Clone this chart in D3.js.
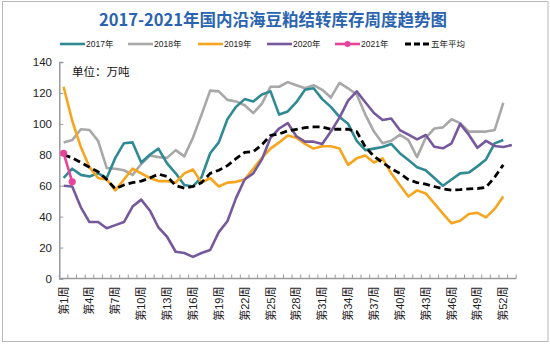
<!DOCTYPE html>
<html>
<head>
<meta charset="utf-8">
<script src="https://cdn.jsdelivr.net/npm/d3@7"></script>
<style>
  html, body { margin: 0; padding: 0; background: #fff; }
  svg { display: block; }
</style>
</head>
<body>
<svg id="chart" width="550" height="347"></svg>
<script>
const weeks = d3.range(1, 54);
const tickWeeks = [1,4,7,10,13,16,19,22,25,28,31,34,37,40,43,46,49,52];
const yTicks = [0,20,40,60,80,100,120,140];

const s2017 = [65,71,67,66,68,65,78,87.5,88,75,80,84,74.5,68,60.5,59.5,65.5,81,88,103,111,116,114.5,119,121,106,108,114,122,123,116,111,104.5,100,89,83,84,85,87,81,76.6,72,70,65,60,64,68,68.5,72.5,77,87.4,89.6];
const s2018 = [88,89.5,96.5,96,89,71.5,71,70,67,74,79.5,78.5,78,83,79,91,106,121.5,121,115.5,114.5,112,107,113,124,124,127,125,123,125,122,117,126.5,123,119,106,95,87.5,89,93,89.5,78.5,91,97,97.7,103,100.5,95,95,95,96,113.5];
const s2019 = [124,102,85,72,65,64,57,64,71,68,65,63,63,62,68,70.5,62,65,59.5,62,62.5,64,71,78,84,88,92.5,91,87,84,85.5,85.5,84,73.5,77.7,79.5,75,77.7,68,60.5,53,57,55,48.6,42,35.7,37.4,41.7,42.5,39.5,45,53];
const s2020 = [60,59.5,46,36.5,36.5,32.5,34.5,36.5,46.5,51,44,33,27,17.3,16.5,14,16.5,18.4,30,37,52,64,68,77,91,97,100.5,92,88.5,88.5,87,95,104,115,121,114,107,102.5,103.5,96,93,90,92.8,85.2,84.2,87.4,100,93,84.5,89,85.7,85,86.3];
const s2021 = [81,62.5];
const sAvg = [80,78,75,72,69,64,58,60.5,62,63,65,67.5,66,60,58.5,59.5,62,68,70,73,77.5,81.5,82,86.5,92.5,93.5,95.5,96.5,97.5,98,98,96.5,96.5,96.5,95,85,79,75,71,68,64,62,61,59.5,58,57.2,57.5,58,58.2,59,65.5,73.5];

const seriesNames = ["2017年","2018年","2019年","2020年","2021年","五年平均"];
const seriesColors = ["#2f8a94","#a8a8a8","#f7a51e","#76599c","#e5449a","#000000"];
const seriesData = [s2017, s2018, s2019, s2020, s2021, sAvg];

const svg = d3.select("#chart");
const font = "'Liberation Sans', Arial, 'Noto Sans CJK SC', sans-serif";

// border
svg.append("rect").attr("x", 2.5).attr("y", 1.5).attr("width", 545.5).attr("height", 340)
  .attr("fill", "#fff").attr("stroke", "#b8b8b8").attr("stroke-width", 1);

// title
svg.append("text").attr("x", 273).attr("y", 26).attr("text-anchor", "middle")
  .attr("font-family", "'Noto Sans CJK SC', sans-serif").attr("font-weight", "bold")
  .attr("font-size", 16.5).attr("fill", "#2a64b0")
  .text("2017-2021年国内沿海豆粕结转库存周度趋势图");

const x = d3.scaleBand().domain(weeks).range([59.3, 516.2]).paddingInner(0).paddingOuter(0);
const y = d3.scaleLinear().domain([0, 140]).range([278.5, 62]);
const cx = w => x(w) + x.bandwidth() / 2;

// y axis
const yAxis = svg.append("g").attr("transform", "translate(59.3,0)")
  .call(d3.axisRight(y).tickValues(yTicks).tickSize(4).tickFormat(""));
yAxis.select(".domain").attr("stroke", "#9a9a9a").attr("stroke-width", 1.5);
yAxis.selectAll(".tick line").attr("stroke", "#9a9a9a");
svg.append("g").selectAll("text").data(yTicks).join("text")
  .attr("x", 52).attr("y", d => y(d) + 4).attr("text-anchor", "end")
  .attr("font-family", font).attr("font-size", 11.5).attr("fill", "#222")
  .text(d => d);

// x axis
const xAxis = svg.append("g").attr("transform", "translate(0,278.5)");
xAxis.append("line").attr("x1", 59.3).attr("x2", 516.2).attr("y1", 0).attr("y2", 0)
  .attr("stroke", "#9a9a9a").attr("stroke-width", 1.5);
xAxis.selectAll("line.tk").data(weeks.concat([54])).join("line").attr("class", "tk")
  .attr("x1", w => w === 54 ? 516.2 : x(w)).attr("x2", w => w === 54 ? 516.2 : x(w))
  .attr("y1", 0).attr("y2", -4).attr("stroke", "#9a9a9a").attr("stroke-width", 1);
xAxis.selectAll("text").data(tickWeeks).join("text")
  .attr("transform", w => `translate(${cx(w) + 4},8) rotate(-90)`)
  .attr("text-anchor", "end")
  .attr("font-family", font).attr("font-size", 11).attr("fill", "#222")
  .text(w => "第" + w + "周");

// unit label
svg.append("text").attr("x", 72).attr("y", 76)
  .attr("font-family", "'Noto Sans CJK SC', sans-serif").attr("font-size", 11.5).attr("fill", "#111")
  .text("单位：万吨");

// lines
const line = d3.line().x((d, i) => cx(weeks[i])).y(d => y(d));
const order = [1, 0, 2, 3, 5, 4];
order.forEach(k => {
  const p = svg.append("path").datum(seriesData[k]).attr("d", line)
    .attr("fill", "none").attr("stroke", seriesColors[k])
    .attr("stroke-width", 2.6).attr("stroke-linejoin", "round");
  if (k === 5) p.attr("stroke-dasharray", "7,4").attr("stroke-width", 2.8);
});
svg.append("g").selectAll("circle").data(s2021).join("circle")
  .attr("cx", (d, i) => cx(weeks[i])).attr("cy", d => y(d)).attr("r", 3.6)
  .attr("fill", seriesColors[4]);

// legend
const legX = [60, 128, 198, 267, 335, 405];
const leg = svg.append("g");
seriesNames.forEach((n, k) => {
  const g = leg.append("g").attr("transform", `translate(${legX[k]},44)`);
  const l = g.append("line").attr("x1", 0).attr("x2", 25).attr("y1", 0).attr("y2", 0)
    .attr("stroke", seriesColors[k]).attr("stroke-width", 2.6);
  if (k === 5) l.attr("stroke-dasharray", "6,3").attr("stroke-width", 3);
  if (k === 4) g.append("circle").attr("cx", 12.5).attr("cy", 0).attr("r", 3).attr("fill", seriesColors[k]);
  g.append("text").attr("x", 26).attr("y", 3)
    .attr("font-family", font).attr("font-size", 8.5).attr("fill", "#222").text(n);
});
</script>
</body>
</html>
